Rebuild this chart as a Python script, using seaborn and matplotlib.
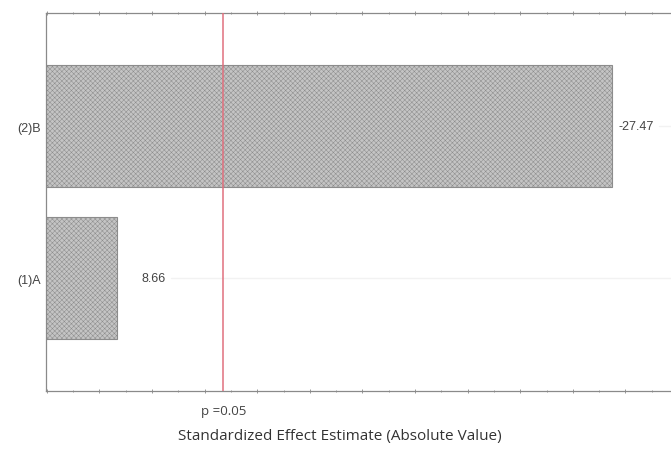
import pandas as pd
import seaborn as sns
import matplotlib.pyplot as plt
from matplotlib.ticker import MultipleLocator, NullFormatter

# Dados do gráfico de Pareto
fatores = ["(2)B", "(1)A"]
efeitos_abs = [27.47, 8.66]
rotulos_efeito = ["-27.47", "8.66"]
t_critico = 12.706  # p = 0.05
limites_x = (5.97, 29.73)

df = pd.DataFrame({"fator": fatores, "efeito": efeitos_abs})

sns.set_style("white")
plt.rcParams["font.family"] = ["Liberation Sans", "DejaVu Sans"]
plt.rcParams["hatch.color"] = "#7a7a7a"
plt.rcParams["hatch.linewidth"] = 0.35

fig = plt.figure(figsize=(6.71, 4.52), dpi=100)
ax = fig.add_axes([0.0686, 0.1327, 0.9314, 0.836])

sns.barplot(
    data=df, y="fator", x="efeito", orient="h", ax=ax,
    color="#c4c4c4", width=0.8, edgecolor="#8c8c8c", linewidth=0.8,
)
for barra in ax.patches:
    barra.set_hatch("xxxxxxx")

# Linha de referência p = 0.05
ax.axvline(t_critico, color="#e0707e", linewidth=1.1, zorder=5)

# Rótulos dos efeitos ao lado das barras
deslocamentos = [5, 18]
for i, (v, rot) in enumerate(zip(efeitos_abs, rotulos_efeito)):
    ax.annotate(rot, xy=(v, i), xytext=(deslocamentos[i], 0),
                textcoords="offset points", va="center", ha="left",
                fontsize=9, color="#444444")
    ax.axhline(i, xmin=0.2 if i == 1 else 0.98, color="#f2f2f2",
               linewidth=1, zorder=0)

ax.set_xlim(*limites_x)
ax.set_ylim(1.743, -0.743)
ax.xaxis.set_major_locator(MultipleLocator(2))
ax.xaxis.set_minor_locator(MultipleLocator(1))
ax.xaxis.set_major_formatter(NullFormatter())
ax.tick_params(axis="x", which="both", direction="inout", top=True,
               bottom=True, length=3, width=0.6, color="#888888")
ax.tick_params(axis="x", which="minor", length=1.5)
ax.tick_params(axis="y", length=0, pad=4, labelsize=9, labelcolor="#444444")
ax.set_xlabel("")
ax.set_ylabel("")

for lado in ["left", "top", "bottom"]:
    ax.spines[lado].set_color("#8a8a8a")
    ax.spines[lado].set_linewidth(0.9)
ax.spines["right"].set_visible(False)

ax.text(t_critico, -0.035, "p =0.05", transform=ax.get_xaxis_transform(),
        ha="center", va="top", fontsize=9.5, color="#444444",
        family=["Open Sans", "DejaVu Sans"])
fig.text(340 / 671, 1 - 437 / 452, "Standardized Effect Estimate (Absolute Value)",
         ha="center", va="center", fontsize=11, color="#333333",
         family=["Open Sans", "DejaVu Sans"])

fig.savefig("out.png", dpi=100)
